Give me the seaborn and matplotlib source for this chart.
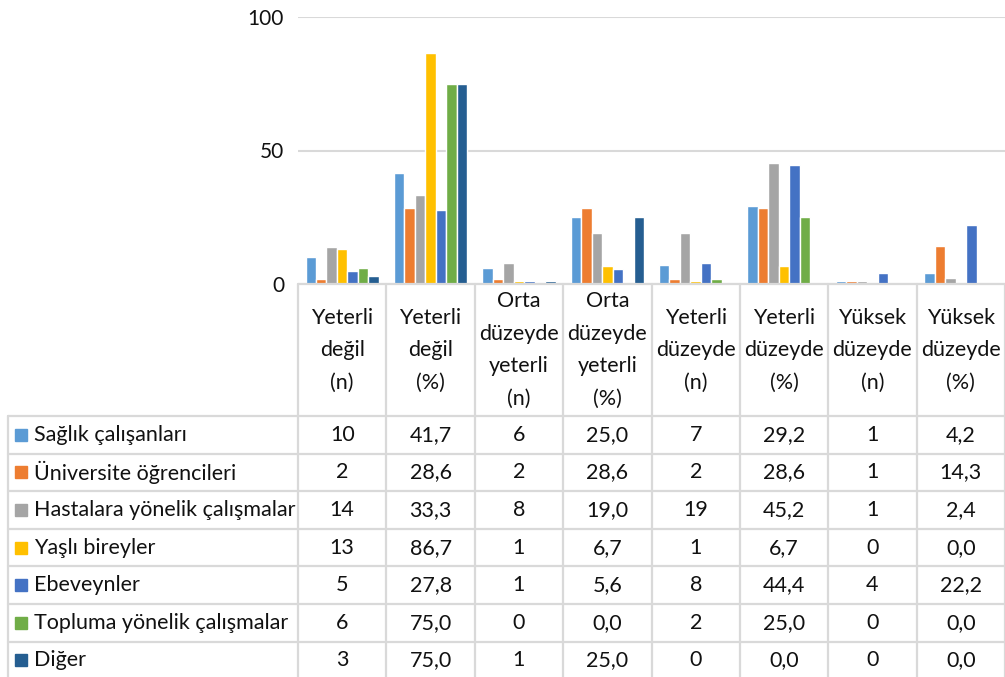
import numpy as np
import pandas as pd
import seaborn as sns
import matplotlib.pyplot as plt
from matplotlib.lines import Line2D
from matplotlib.patches import Rectangle

# kategori basliklari (tablo sutunlari)
kategoriler = ["Yeterli\ndeğil\n(n)", "Yeterli\ndeğil\n(%)",
               "Orta\ndüzeyde\nyeterli\n(n)", "Orta\ndüzeyde\nyeterli\n(%)",
               "Yeterli\ndüzeyde\n(n)", "Yeterli\ndüzeyde\n(%)",
               "Yüksek\ndüzeyde\n(n)", "Yüksek\ndüzeyde\n(%)"]
gruplar = ["Sağlık çalışanları", "Üniversite öğrencileri",
           "Hastalara yönelik çalışmalar", "Yaşlı bireyler", "Ebeveynler",
           "Topluma yönelik çalışmalar", "Diğer"]
saglik = [10, 41.7, 6, 25.0, 7, 29.2, 1, 4.2]
universite = [2, 28.6, 2, 28.6, 2, 28.6, 1, 14.3]
hastalar = [14, 33.3, 8, 19.0, 19, 45.2, 1, 2.4]
yasli = [13, 86.7, 1, 6.7, 1, 6.7, 0, 0.0]
ebeveyn = [5, 27.8, 1, 5.6, 8, 44.4, 4, 22.2]
toplum = [6, 75.0, 0, 0.0, 2, 25.0, 0, 0.0]
diger = [3, 75.0, 1, 25.0, 0, 0.0, 0, 0.0]
degerler = [saglik, universite, hastalar, yasli, ebeveyn, toplum, diger]
renkler = ["#5B9BD5", "#ED7D31", "#A5A5A5", "#FFC000", "#4472C4", "#70AD47", "#255E91"]
yuzde = [False, True, False, True, False, True, False, True]

rows = []
for g, vals in zip(gruplar, degerler):
    for k, v in zip(kategoriler, vals):
        rows.append({"kategori": k, "grup": g, "deger": v})
df = pd.DataFrame(rows)

sns.set_style("white")
plt.rcParams['font.family'] = ['Lato', 'DejaVu Sans']

W, H = 1005, 677
fig = plt.figure(figsize=(W / 100, H / 100), dpi=100)

def fx(x):
    return x / W

def fy(y):
    return 1 - y / H

x0, x1, ytop, ybot = 298, 1005, 17, 284
ax = fig.add_axes([fx(x0), fy(ybot), (x1 - x0) / W, (ybot - ytop) / H])
sns.barplot(data=df, x="kategori", y="deger", hue="grup", palette=renkler,
            order=kategoriler, hue_order=gruplar, width=0.83, saturation=1,
            ax=ax, legend=False)
ax.set_ylim(0, 100)
ax.set_xlim(-0.5, len(kategoriler) - 0.5)
ax.set_yticks([0, 50, 100])
ax.set_yticklabels(["0", "50", "100"], fontsize=15, color="#111111")
ax.tick_params(axis="y", length=0, pad=10)
ax.set_xticks([])
ax.set_xlabel("")
ax.set_ylabel("")
ax.grid(axis="y", color="#D9D9D9", linewidth=1.5)
ax.set_axisbelow(True)
for s in ax.spines.values():
    s.set_visible(False)

# veri tablosu
lc = "#D9D9D9"
lw = 1.6
fs = 15.5
colw = (x1 - x0) / len(kategoriler)
hdr_bot = 416
rowh = 37.6
tbl_bot = hdr_bot + rowh * len(gruplar)
left = 8

def hline(y, xa, xb):
    fig.add_artist(Line2D([fx(xa), fx(xb)], [fy(y), fy(y)], color=lc, lw=lw))

def vline(x, ya, yb):
    fig.add_artist(Line2D([fx(x), fx(x)], [fy(ya), fy(yb)], color=lc, lw=lw))

hline(ybot, x0, x1)
for i in range(len(gruplar) + 1):
    hline(hdr_bot + i * rowh, left, x1)
for j in range(len(kategoriler) + 1):
    vline(x0 + j * colw, ybot, tbl_bot)
vline(left, hdr_bot, tbl_bot)

for j, k in enumerate(kategoriler):
    fig.text(fx(x0 + (j + 0.5) * colw), fy((ybot + hdr_bot) / 2), k,
             ha="center", va="center", fontsize=fs, linespacing=1.78, color="#111111")

for i, (g, vals, c) in enumerate(zip(gruplar, degerler, renkler)):
    yc = hdr_bot + (i + 0.5) * rowh
    fig.add_artist(Rectangle((fx(15), fy(yc + 6)), 12 / W, 12 / H,
                             color=c, transform=fig.transFigure))
    fig.text(fx(34), fy(yc), g, ha="left", va="center", fontsize=fs, color="#111111")
    for j, v in enumerate(vals):
        s = f"{v:.1f}".replace(".", ",") if yuzde[j] else f"{int(v)}"
        fig.text(fx(x0 + (j + 0.5) * colw), fy(yc), s,
                 ha="center", va="center", fontsize=fs, color="#111111")

fig.savefig("out.png", dpi=100)
